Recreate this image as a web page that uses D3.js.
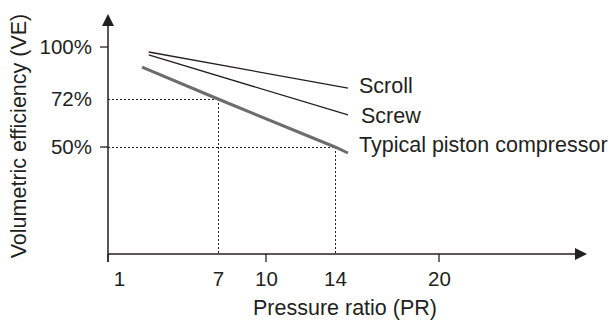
<!DOCTYPE html>
<html>
<head>
<meta charset="utf-8">
<script src="https://cdn.jsdelivr.net/npm/d3@7/dist/d3.min.js"></script>
<style>
  html, body { margin: 0; padding: 0; background: #fff; }
  svg { display: block; }
  text { font-family: "Liberation Sans", Arial, Helvetica, sans-serif; fill: #231f20; }
</style>
</head>
<body>
<svg id="chart" width="609" height="320"></svg>
<script>
// Pressure ratio ticks and labels
const xTickMarks = [0, 10, 20];
const xTickLabels = [1, 7, 10, 14, 20];
// Volumetric efficiency ticks and labels (%)
const yTickMarks = [100, 50];
const yTickLabels = [100, 72, 50];

// Compressor curves: [pressure ratio, volumetric efficiency %]
const scrollPR = [2.8, 14.75];
const scrollVE = [97.3, 77.9];
const screwPR = [2.8, 14.75];
const screwVE = [95.7, 64.7];
const pistonPR = [2.4, 7, 14, 14.75];
const pistonVE = [89.2, 72, 50, 47.2];

const seriesNames = ["Scroll", "Screw", "Typical piston compressor"];

// Reference read-outs on the piston curve
const guidePR = [7, 14];
const guideVE = [72, 50];

const svg = d3.select("#chart");
const ink = "#231f20";
const labelSize = 21.5;
const tickSize = 20.5;

// Schematic (piecewise) axes
const x = d3.scaleLinear()
  .domain([0, 1, 7, 10, 14, 20])
  .range([108, 119, 218, 266, 335, 439]);
const y = d3.scaleLinear()
  .domain([0, 50, 72, 100])
  .range([254, 147, 99, 47]);

const x0 = x(0), y0 = y(0);
const xEnd = 587, yEnd = 14;

// dotted guide lines
const guides = svg.append("g")
  .attr("stroke", ink).attr("stroke-width", 1)
  .attr("stroke-dasharray", "2,2").attr("fill", "none")
  .attr("shape-rendering", "crispEdges");
guidePR.forEach((pr, i) => {
  const ve = guideVE[i];
  guides.append("line")
    .attr("x1", x0).attr("x2", x(pr))
    .attr("y1", y(ve) + 0.5).attr("y2", y(ve) + 0.5);
  guides.append("line")
    .attr("x1", x(pr) + 0.5).attr("x2", x(pr) + 0.5)
    .attr("y1", y(ve)).attr("y2", y0);
});

// X axis
const xAxis = d3.axisBottom(x)
  .tickValues(xTickLabels)
  .tickSize(0)
  .tickPadding(17)
  .tickFormat(d3.format("d"));
const gx = svg.append("g").attr("transform", `translate(0,${y0})`).call(xAxis);
gx.select(".domain").remove();
gx.attr("font-family", null).attr("font-size", null);
gx.selectAll("text").attr("font-size", tickSize);

svg.append("g").selectAll("line").data(xTickMarks).join("line")
  .attr("x1", d => x(d)).attr("x2", d => x(d))
  .attr("y1", y0).attr("y2", y0 + 8)
  .attr("stroke", ink).attr("stroke-width", 1.3);

// Y axis
const yAxis = d3.axisLeft(y)
  .tickValues(yTickLabels)
  .tickSize(0)
  .tickPadding(16)
  .tickFormat(d => d + "%");
const gy = svg.append("g").attr("transform", `translate(${x0},0)`).call(yAxis);
gy.select(".domain").remove();
gy.attr("font-family", null).attr("font-size", null);
gy.selectAll("text").attr("font-size", tickSize);

svg.append("g").selectAll("line").data(yTickMarks).join("line")
  .attr("x1", x0 - 8).attr("x2", x0)
  .attr("y1", d => y(d)).attr("y2", d => y(d))
  .attr("stroke", ink).attr("stroke-width", 1.3);

// Axis lines with arrow heads
svg.append("line")
  .attr("x1", x0).attr("x2", xEnd - 8)
  .attr("y1", y0).attr("y2", y0)
  .attr("stroke", ink).attr("stroke-width", 1.5);
svg.append("line")
  .attr("x1", x0).attr("x2", x0)
  .attr("y1", y0 + 8).attr("y2", yEnd + 8)
  .attr("stroke", ink).attr("stroke-width", 1.5);
svg.append("path")
  .attr("d", `M${xEnd},${y0} L${xEnd - 12},${y0 - 6} L${xEnd - 12},${y0 + 6} Z`)
  .attr("fill", ink);
svg.append("path")
  .attr("d", `M${x0},${yEnd} L${x0 - 6},${yEnd + 12} L${x0 + 6},${yEnd + 12} Z`)
  .attr("fill", ink);

// Curves
const line = d3.line().x(d => x(d[0])).y(d => y(d[1]));
const series = [
  { name: seriesNames[0], pts: d3.zip(scrollPR, scrollVE), color: ink, width: 1.3, dx: 11, dy: 5 },
  { name: seriesNames[1], pts: d3.zip(screwPR, screwVE), color: ink, width: 1.3, dx: 13, dy: 8 },
  { name: seriesNames[2], pts: d3.zip(pistonPR, pistonVE), color: "#6d6d6d", width: 3, dx: 11, dy: -1 }
];
series.forEach(s => {
  svg.append("path")
    .attr("d", line(s.pts))
    .attr("fill", "none")
    .attr("stroke", s.color)
    .attr("stroke-width", s.width);
  const last = s.pts[s.pts.length - 1];
  svg.append("text")
    .attr("x", x(last[0]) + s.dx)
    .attr("y", y(last[1]) + s.dy)
    .attr("font-size", labelSize)
    .text(s.name);
});

// Axis titles
svg.append("text")
  .attr("x", 345).attr("y", 315)
  .attr("text-anchor", "middle")
  .attr("font-size", labelSize)
  .text("Pressure ratio (PR)");
svg.append("text")
  .attr("transform", "translate(26,136) rotate(-90)")
  .attr("text-anchor", "middle")
  .attr("font-size", labelSize)
  .text("Volumetric efficiency (VE)");
</script>
</body>
</html>
